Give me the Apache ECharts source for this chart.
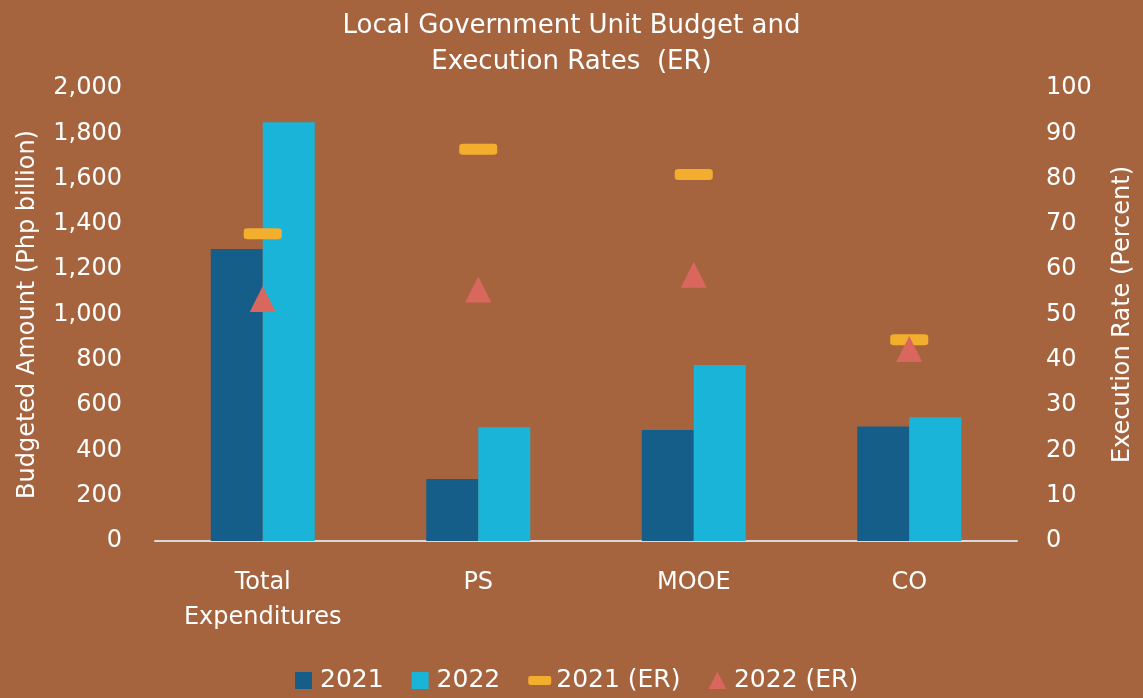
<!DOCTYPE html>
<html>
<head>
<meta charset="utf-8">
<script src="https://cdn.jsdelivr.net/npm/echarts@6/dist/echarts.min.js"></script>
<style>
  html, body { margin: 0; padding: 0; background: #A6643E; }
  #chart { width: 1143px; height: 698px; }
</style>
</head>
<body>
<div id="chart"></div>
<script>
const categories = ["Total\nExpenditures", "PS", "MOOE", "CO"];
const budget2021 = [1289, 274, 490, 505];
const budget2022 = [1849, 502, 777, 546];
const er2021 = [67.8, 86.5, 80.9, 44.4];
const er2022 = [53.4, 55.5, 58.8, 42.4];

const font = "'DejaVu Sans', sans-serif";
const white = "#ffffff";
const dash = "path://M2,0 H18 A2,2 0 0 1 20,2 V6 A2,2 0 0 1 18,8 H2 A2,2 0 0 1 0,6 V2 A2,2 0 0 1 2,0 Z";
const square = "path://M0,0 H10 V10 H0 Z";
const tri = "path://M10,0 L20,19 H0 Z";

const chart = echarts.init(document.getElementById("chart"));
chart.setOption({
  backgroundColor: "#A6643E",
  textStyle: { fontFamily: font, color: white },
  title: {
    text: "Local Government Unit Budget and\nExecution Rates  (ER)",
    left: "center",
    top: 3,
    padding: [5, 54, 5, 5],
    textStyle: { color: white, fontSize: 26, fontWeight: "normal", lineHeight: 36, fontFamily: font },
  },
  legend: {
    top: 663,
    left: 290,
    itemGap: 28,
    itemWidth: 23,
    itemHeight: 17,
    textStyle: { color: white, fontSize: 25, fontFamily: font },
    data: [
      { name: "2021", icon: square },
      { name: "2022", icon: square },
      { name: "2021 (ER)", icon: dash },
      { name: "2022 (ER)", icon: tri },
    ],
  },
  grid: { left: 155, right: 125, top: 88, bottom: 157 },
  xAxis: {
    type: "category",
    data: categories,
    axisLine: { lineStyle: { color: "#D9D9D9", width: 2 } },
    axisTick: { show: false },
    axisLabel: { color: white, fontSize: 24, lineHeight: 35, margin: 24, fontFamily: font },
  },
  yAxis: [
    {
      type: "value",
      min: 0,
      max: 2000,
      interval: 200,
      name: "Budgeted Amount (Php billion)",
      nameLocation: "middle",
      nameGap: 115,
      nameTextStyle: { color: white, fontSize: 24, fontFamily: font },
      splitLine: { show: false },
      axisLine: { show: false },
      axisTick: { show: false },
      axisLabel: {
        color: white,
        fontSize: 24,
        margin: 33,
        fontFamily: font,
        formatter: (v) => v.toLocaleString("en-US"),
      },
    },
    {
      type: "value",
      min: 0,
      max: 100,
      interval: 10,
      name: "Execution Rate (Percent)",
      nameLocation: "middle",
      nameGap: 94,
      nameTextStyle: { color: white, fontSize: 24, fontFamily: font },
      splitLine: { show: false },
      axisLine: { show: false },
      axisTick: { show: false },
      axisLabel: { color: white, fontSize: 24, margin: 29, fontFamily: font },
    },
  ],
  series: [
    {
      name: "2021",
      type: "bar",
      data: budget2021,
      barWidth: 52,
      barGap: "0%",
      itemStyle: { color: "#155E8A" },
    },
    {
      name: "2022",
      type: "bar",
      data: budget2022,
      barWidth: 52,
      barGap: "0%",
      itemStyle: { color: "#1AB4D8" },
    },
    {
      name: "2021 (ER)",
      type: "scatter",
      yAxisIndex: 1,
      data: er2021,
      symbol: dash,
      symbolSize: [38, 11],
      symbolKeepAspect: false,
      itemStyle: { color: "#F3AE2E", opacity: 1 },
      z: 3,
    },
    {
      name: "2022 (ER)",
      type: "scatter",
      yAxisIndex: 1,
      data: er2022,
      symbol: "triangle",
      symbolSize: [26, 26],
      itemStyle: { color: "#D9675E", opacity: 1 },
      z: 4,
    },
  ],
});
</script>
</body>
</html>
